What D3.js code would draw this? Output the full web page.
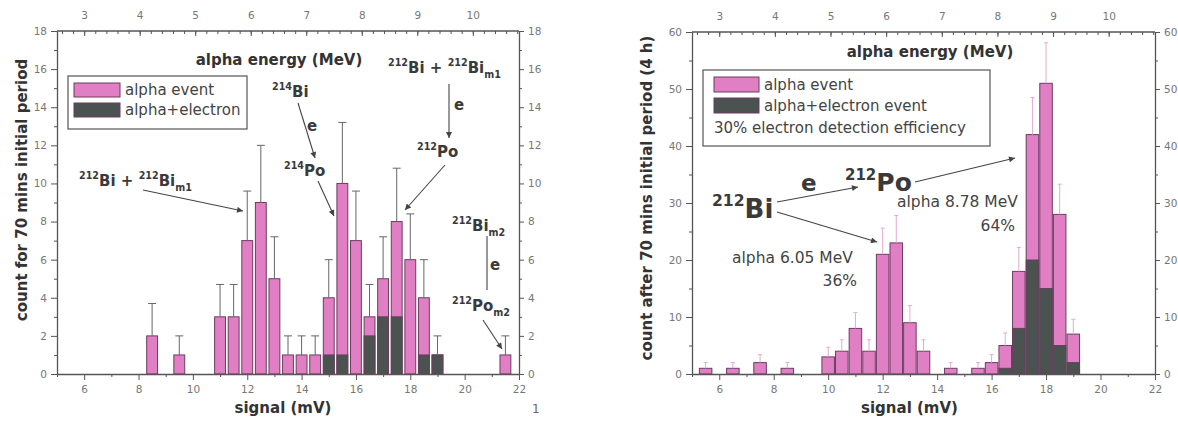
<!DOCTYPE html>
<html><head><meta charset="utf-8">
<script src="https://cdn.jsdelivr.net/npm/d3@7/dist/d3.min.js"></script>
<style>
body{margin:0;background:#fff;}
text{font-family:"DejaVu Sans","Liberation Sans",Arial,sans-serif;}
</style>
</head><body>
<svg id="c" width="1178" height="423"></svg>
<script>
// ---------- data ----------
const leftSignal   = [8.5, 9.5, 11, 11.5, 12, 12.5, 13, 13.5, 14, 14.5, 15, 15.5, 16, 16.5, 17, 17.5, 18, 18.5, 19, 21.5];
const leftAlpha    = [2, 1, 3, 3, 7, 9, 5, 1, 1, 1, 4, 10, 7, 3, 5, 8, 6, 4, 1, 1];
const leftElectron = [0, 0, 0, 0, 0, 0, 0, 0, 0, 0, 1, 1, 0, 2, 3, 3, 0, 1, 1, 0];
const leftError    = [1.7, 1, 1.7, 1.7, 2.6, 3, 2.2, 1, 1, 1, 2, 3.2, 2.6, 1.7, 2.2, 2.8, 2.4, 2, 1, 1];

const rightSignal   = [5.5, 6.5, 7.5, 8.5, 10, 10.5, 11, 11.5, 12, 12.5, 13, 13.5, 14.5, 15.5, 16, 16.5, 17, 17.5, 18, 18.5, 19];
const rightAlpha    = [1, 1, 2, 1, 3, 4, 8, 4, 21, 23, 9, 4, 1, 1, 2, 5, 18, 42, 51, 28, 7];
const rightElectron = [0, 0, 0, 0, 0, 0, 0, 0, 0, 0, 0, 0, 0, 0, 0, 1, 8, 20, 15, 5, 2];
const rightError    = [1, 1, 1.4, 1, 1.7, 2, 2.8, 2, 4.6, 4.8, 3, 2, 1, 1, 1.4, 2.2, 4.2, 6.5, 7.1, 5.3, 2.6];

const signalDomain = [5, 22];
const signalTicks = [6, 8, 10, 12, 14, 16, 18, 20, 22];
const signalMinor = [5, 7, 9, 11, 13, 15, 17, 19, 21];
const energyTicks = [3, 4, 5, 6, 7, 8, 9, 10];
// calibration: energy (MeV) -> signal (mV)
const energyCalibE = [3, 10];
const energyCalibS = [6, 20.3];
const leftCountTicks  = [0, 2, 4, 6, 8, 10, 12, 14, 16, 18];
const leftCountMinor  = [1, 3, 5, 7, 9, 11, 13, 15, 17];
const rightCountTicks = [0, 10, 20, 30, 40, 50, 60];
const rightCountMinor = [5, 15, 25, 35, 45, 55];

// ---------- styles ----------
const PINK = '#e17fc5', DARK = '#4b5351', OUT = '#6b3d60';
const AX = '#555', TICKTXT = '#777';

const svg = d3.select('#c');
const defs = svg.append('defs');
defs.append('marker').attr('id','arr').attr('viewBox','0 0 10 10')
  .attr('refX',10).attr('refY',5).attr('markerWidth',8).attr('markerHeight',6)
  .attr('markerUnits','userSpaceOnUse').attr('orient','auto')
  .append('path').attr('d','M0,0 L10,5 L0,10 z').attr('fill','#444');

function rich(g, x, y, parts, base, ratio) {
  ratio = ratio || 0.64;
  const t = g.append('text').attr('x', x).attr('y', y)
    .attr('font-weight','bold').attr('fill','#3a3a3a');
  let cur = 0;
  parts.forEach(([s, k]) => {
    const target = k === 'sup' ? -0.45*base : (k === 'sub' ? 0.35*base : 0);
    const fs = k === 'n' ? base : base*ratio;
    t.append('tspan').attr('dy', target - cur).attr('font-size', fs).text(s);
    cur = target;
  });
  return t;
}
function arrow(g, x1, y1, x2, y2, head) {
  const l = g.append('line').attr('x1',x1).attr('y1',y1).attr('x2',x2).attr('y2',y2)
    .attr('stroke','#444').attr('stroke-width',1.1);
  if (head !== false) l.attr('marker-end','url(#arr)');
}
function plain(g, x, y, s, size, opts) {
  opts = opts || {};
  return g.append('text').attr('x',x).attr('y',y).attr('font-size',size)
    .attr('fill', opts.fill || '#444').attr('font-weight', opts.bold ? 'bold':'normal')
    .attr('text-anchor', opts.anchor || 'start').text(s);
}

function panel(o) {
  const g = svg.append('g');
  const x = d3.scaleLinear().domain(signalDomain).range([o.x0, o.x1]);
  const y = d3.scaleLinear().domain([0, o.ymax]).range([o.y1, o.y0]);
  const e = d3.scaleLinear().domain(energyCalibE).range(energyCalibS.map(x));
  const bw = o.bw;

  const data = o.sig.map((s,i) => ({s, a:o.alpha[i], el:o.elec[i], er:o.err[i]}));
  g.selectAll('rect.a').data(data).join('rect').attr('class','a')
    .attr('x', d => x(d.s - bw/2)).attr('width', x(bw) - x(0))
    .attr('y', d => y(d.a)).attr('height', d => y(0) - y(d.a))
    .attr('fill', PINK).attr('stroke', OUT).attr('stroke-width', 1);
  g.selectAll('rect.e').data(data.filter(d => d.el > 0)).join('rect').attr('class','e')
    .attr('x', d => x(d.s - bw/2)).attr('width', x(bw) - x(0))
    .attr('y', d => y(d.el)).attr('height', d => y(0) - y(d.el))
    .attr('fill', DARK).attr('stroke', OUT).attr('stroke-width', 1);
  g.selectAll('line.er').data(data).join('line').attr('class','er')
    .attr('x1', d => x(d.s)).attr('x2', d => x(d.s))
    .attr('y1', d => y(d.a)).attr('y2', d => y(d.a + d.er))
    .attr('stroke', o.errColor).attr('stroke-width', 1);
  g.selectAll('line.cap').data(data).join('line').attr('class','cap')
    .attr('x1', d => x(d.s) - o.cap).attr('x2', d => x(d.s) + o.cap)
    .attr('y1', d => y(d.a + d.er)).attr('y2', d => y(d.a + d.er))
    .attr('stroke', o.errColor).attr('stroke-width', 1);

  const styleAx = sel => {
    sel.select('.domain').attr('stroke', AX).attr('stroke-width', 1.3);
    sel.selectAll('.tick line').attr('stroke', AX);
    sel.selectAll('.tick text').attr('fill', TICKTXT).attr('font-size', 10.5)
      .attr('font-family','"DejaVu Sans",sans-serif');
  };
  const fmt = d3.format('d');
  g.append('g').attr('transform', `translate(0,${o.y1})`)
    .call(d3.axisBottom(x).tickValues(signalTicks).tickFormat(fmt).tickSize(6).tickPadding(6).tickSizeOuter(0)).call(styleAx);
  g.append('g').attr('transform', `translate(0,${o.y1})`)
    .call(d3.axisBottom(x).tickValues(signalMinor).tickFormat('').tickSize(3).tickSizeOuter(0))
    .call(s => { s.select('.domain').remove(); s.selectAll('line').attr('stroke', AX); });
  g.append('g').attr('transform', `translate(${o.x0},0)`)
    .call(d3.axisLeft(y).tickValues(o.yTicks).tickFormat(fmt).tickSize(6).tickPadding(4).tickSizeOuter(0)).call(styleAx);
  g.append('g').attr('transform', `translate(${o.x0},0)`)
    .call(d3.axisLeft(y).tickValues(o.yMinor).tickFormat('').tickSize(3).tickSizeOuter(0))
    .call(s => { s.select('.domain').remove(); s.selectAll('line').attr('stroke', AX); });
  g.append('g').attr('transform', `translate(${o.x1},0)`)
    .call(d3.axisRight(y).tickValues(o.yTicks).tickFormat(fmt).tickSize(5).tickPadding(4).tickSizeOuter(0)).call(styleAx);
  g.append('g').attr('transform', `translate(${o.x1},0)`)
    .call(d3.axisRight(y).tickValues(o.yMinor).tickFormat('').tickSize(3).tickSizeOuter(0))
    .call(s => { s.select('.domain').remove(); s.selectAll('line').attr('stroke', AX); });
  const eMinor = d3.range(26, 109, 2).map(v => v/10).filter(v => x.invert(e(v)) >= 5 && e(v) <= o.x1);
  g.append('g').attr('transform', `translate(0,${o.y0})`)
    .call(d3.axisTop(e).tickValues(energyTicks).tickFormat(fmt).tickSize(-5).tickPadding(12).tickSizeOuter(0))
    .call(styleAx).call(s => s.select('.domain').remove());
  g.append('g').attr('transform', `translate(0,${o.y0})`)
    .call(d3.axisTop(e).tickValues(eMinor).tickFormat('').tickSize(-3).tickSizeOuter(0))
    .call(s => { s.select('.domain').remove(); s.selectAll('line').attr('stroke', AX); });
  g.append('line').attr('x1', o.x0).attr('x2', o.x1).attr('y1', o.y0).attr('y2', o.y0)
    .attr('stroke', AX).attr('stroke-width', 1.3);

  plain(g, (o.x0+o.x1)/2 + o.xlabDx, 413, 'signal (mV)', 15, {bold:true, anchor:'middle', fill:'#333'});
  g.append('text').attr('transform', `translate(${o.ylabX},${o.ylabY}) rotate(-90)`)
    .attr('text-anchor','middle').attr('font-size', 15).attr('font-weight','bold').attr('fill','#333')
    .text(o.ylab);
  plain(g, o.etX, o.etY, 'alpha energy (MeV)', 15, {bold:true, anchor:'middle', fill:'#333'});
  return {g, x, y};
}

// ---------- left panel ----------
const L = panel({x0:57, x1:519, y0:31, y1:374, ymax:18, bw:0.4, cap:4, errColor:'#666',
  sig:leftSignal, alpha:leftAlpha, elec:leftElectron, err:leftError,
  yTicks:leftCountTicks, yMinor:leftCountMinor, xlabDx:-5,
  ylab:'count for 70 mins initial period', ylabX:27, ylabY:190, etX:279, etY:65});
{
  const g = L.g;
  g.append('rect').attr('x',68).attr('y',76).attr('width',179).attr('height',53)
    .attr('fill','#fff').attr('stroke','#555').attr('stroke-width',1.2);
  g.append('rect').attr('x',74).attr('y',83).attr('width',46).attr('height',14).attr('fill',PINK).attr('stroke',OUT);
  g.append('rect').attr('x',74).attr('y',103).attr('width',46).attr('height',14).attr('fill',DARK).attr('stroke',OUT);
  plain(g, 125, 95, 'alpha event', 15);
  plain(g, 125, 115, 'alpha+electron', 15);

  const B = 15;
  rich(g, 79, 186, [['212','sup'],['Bi','n'],[' + ','n'],['212','sup'],['Bi','n'],['m1','sub']], B);
  arrow(g, 143, 190, 243, 211);
  rich(g, 272, 97, [['214','sup'],['Bi','n']], B);
  arrow(g, 298, 103, 315, 158);
  plain(g, 307, 131, 'e', 15, {bold:true, fill:'#3a3a3a'});
  rich(g, 284, 176, [['214','sup'],['Po','n']], B);
  arrow(g, 318, 181, 334, 216);
  rich(g, 388, 73, [['212','sup'],['Bi','n'],[' + ','n'],['212','sup'],['Bi','n'],['m1','sub']], B);
  arrow(g, 449, 84, 449, 138);
  plain(g, 454, 110, 'e', 15, {bold:true, fill:'#3a3a3a'});
  rich(g, 417, 157, [['212','sup'],['Po','n']], B);
  arrow(g, 445, 165, 405, 210);
  rich(g, 452, 231, [['212','sup'],['Bi','n'],['m2','sub']], B);
  arrow(g, 487, 236, 487, 290, false);
  plain(g, 490, 270, 'e', 15, {bold:true, fill:'#3a3a3a'});
  rich(g, 452, 311, [['212','sup'],['Po','n'],['m2','sub']], B);
  arrow(g, 483, 320, 502, 349);
  plain(g, 532, 413, '1', 12, {fill:'#666'});
}

// ---------- right panel ----------
const R = panel({x0:692, x1:1155, y0:32, y1:374, ymax:60, bw:0.46, cap:2, errColor:'#e3a9d6',
  sig:rightSignal, alpha:rightAlpha, elec:rightElectron, err:rightError,
  yTicks:rightCountTicks, yMinor:rightCountMinor, xlabDx:-14,
  ylab:'count after 70 mins initial period (4 h)', ylabX:652, ylabY:198, etX:930, etY:57});
{
  const g = R.g;
  g.append('rect').attr('x',703).attr('y',70).attr('width',287).attr('height',76)
    .attr('fill','#fff').attr('stroke','#555').attr('stroke-width',1.2);
  g.append('rect').attr('x',714).attr('y',77).attr('width',45).attr('height',15).attr('fill',PINK).attr('stroke',OUT);
  g.append('rect').attr('x',714).attr('y',98).attr('width',45).attr('height',15).attr('fill',DARK).attr('stroke',OUT);
  plain(g, 764, 90, 'alpha event', 15);
  plain(g, 764, 111, 'alpha+electron event', 15);
  plain(g, 714, 133, '30% electron detection efficiency', 15);

  rich(g, 712, 218, [['212','sup'],['Bi','n']], 26, 0.6);
  rich(g, 845, 191, [['212','sup'],['Po','n']], 25, 0.6);
  plain(g, 801, 191, 'e', 23, {bold:true, fill:'#3a3a3a'});
  arrow(g, 777, 202, 858, 187);
  arrow(g, 915, 182, 1015, 158);
  arrow(g, 777, 212, 877, 242);
  plain(g, 732, 263, 'alpha 6.05 MeV', 15.5);
  plain(g, 857, 286, '36%', 15.5, {anchor:'end'});
  plain(g, 897, 207, 'alpha 8.78 MeV', 15.5);
  plain(g, 1015, 231, '64%', 15.5, {anchor:'end'});
}
</script>
</body></html>
